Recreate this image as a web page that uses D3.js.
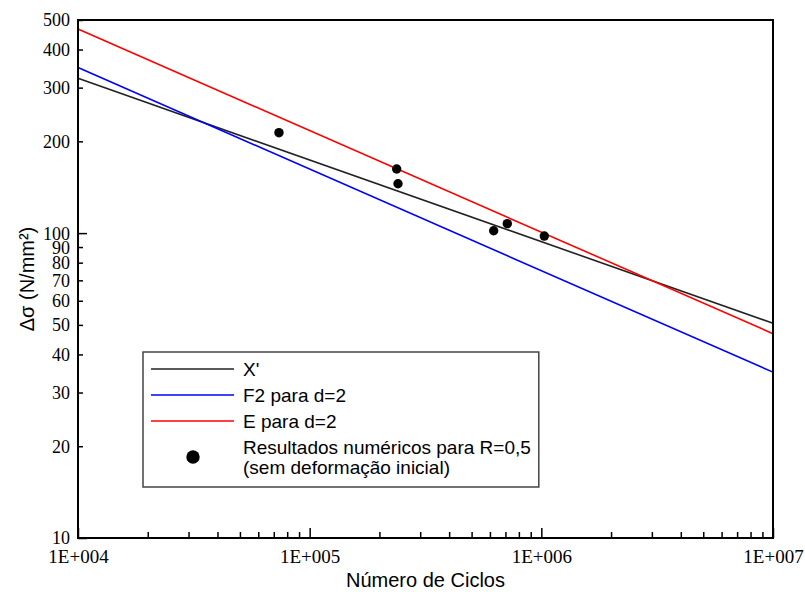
<!DOCTYPE html>
<html>
<head>
<meta charset="utf-8">
<script src="https://cdn.jsdelivr.net/npm/d3@7"></script>
<style>
  body { margin: 0; background: #fff; }
  svg { display: block; }
  .axis .tick text { font-family: 'Liberation Serif', 'Times New Roman', serif; font-size: 19px; fill: #000; }
  .axis.y .tick text { font-size: 18px; }
  .axis path.domain { display: none; }
  .axis .tick line { stroke: #000; stroke-width: 1.5; }
  .title { font-family: 'Liberation Sans', Arial, sans-serif; font-size: 20px; fill: #000; }
  .legend text { font-family: 'Liberation Sans', Arial, sans-serif; font-size: 19px; fill: #000; }
</style>
</head>
<body>
<svg id="graph" width="805" height="592"></svg>
<script>
// fitted curves, read at both ends of the x range
const lineCycles = [1e4, 1e7];
const xPrimeValues = [322, 50.6];
const f2Values = [349, 35];
const eValues = [467, 46.8];

// numerical results (R=0,5)
const pointCycles = [73700, 237500, 240600, 622800, 713000, 1030000];
const pointValues = [213.5, 162.3, 145.2, 101.8, 107.4, 97.8];

const majorCycles = [1e4, 1e5, 1e6, 1e7];
const cycleLabels = ['1E+004', '1E+005', '1E+006', '1E+007'];
const stressTicks = [10, 20, 30, 40, 50, 60, 70, 80, 90, 100, 200, 300, 400, 500];
const majorStress = [10, 100];

const seriesNames = ["X'", 'F2 para d=2', 'E para d=2'];
const seriesColors = ['#222', '#0000ff', '#ff0000'];
const pointLabel = ['Resultados numéricos para R=0,5', '(sem deformação inicial)'];

const margin = { top: 20, right: 32, bottom: 54, left: 78 };
const svg = d3.select('#graph');
const width = 805 - margin.left - margin.right;
const height = 592 - margin.top - margin.bottom;

const g = svg.append('g')
    .attr('transform', `translate(${margin.left},${margin.top})`);

const x = d3.scaleLog().domain([1e4, 1e7]).range([0, width]);
const y = d3.scaleLog().domain([10, 500]).range([height, 0]);

// x axis: all 1..9 decade ticks, labels only at the decades
const xAxis = d3.axisBottom(x)
  .tickValues(x.ticks())
  .tickSizeInner(-6)
  .tickSizeOuter(0)
  .tickPadding(12)
  .tickFormat(d => {
    const i = majorCycles.indexOf(d);
    return i >= 0 ? cycleLabels[i] : '';
  });

const xg = g.append('g')
    .attr('class', 'axis x')
    .attr('transform', `translate(0,${height})`)
    .call(xAxis);
xg.selectAll('.tick line')
    .attr('y2', d => (majorCycles.includes(d) ? -10 : -6));

const yAxis = d3.axisLeft(y)
  .tickValues(stressTicks)
  .tickSizeInner(-5)
  .tickSizeOuter(0)
  .tickPadding(8)
  .tickFormat(d3.format('d'));

const yg = g.append('g')
    .attr('class', 'axis y')
    .call(yAxis);
yg.selectAll('.tick line')
    .attr('x2', d => (majorStress.includes(d) ? 9 : 5));
yg.selectAll('.tick text').attr('dy', '0.33em');

// lines
const line = d3.line()
  .x(d => x(d[0]))
  .y(d => y(d[1]));

[xPrimeValues, f2Values, eValues].forEach((vals, i) => {
  g.append('path')
    .datum(lineCycles.map((c, j) => [c, vals[j]]))
    .attr('d', line)
    .attr('fill', 'none')
    .attr('stroke', seriesColors[i])
    .attr('stroke-width', 1.6);
});

g.selectAll('.pt')
  .data(pointCycles.map((c, i) => [c, pointValues[i]]))
  .enter().append('circle')
    .attr('class', 'pt')
    .attr('cx', d => x(d[0]))
    .attr('cy', d => y(d[1]))
    .attr('r', 4.7)
    .attr('fill', '#000');

// frame
g.append('rect')
    .attr('width', width)
    .attr('height', height)
    .attr('fill', 'none')
    .attr('stroke', '#000')
    .attr('stroke-width', 2);

// axis titles
svg.append('text')
    .attr('class', 'title')
    .attr('text-anchor', 'middle')
    .attr('x', margin.left + width / 2)
    .attr('y', 587)
    .text('Número de Ciclos');

svg.append('text')
    .attr('class', 'title')
    .attr('text-anchor', 'middle')
    .attr('transform', `translate(34,${margin.top + height / 2}) rotate(-90)`)
    .text('Δσ (N/mm²)');

// legend
const legend = svg.append('g').attr('class', 'legend');
const box = legend.append('rect')
    .attr('x', 143)
    .attr('y', 352)
    .attr('height', 135)
    .attr('fill', '#fff')
    .attr('stroke', '#444')
    .attr('stroke-width', 1.5);

seriesNames.forEach((name, i) => {
  const cy = 369 + i * 26;
  legend.append('line')
      .attr('x1', 151).attr('x2', 234)
      .attr('y1', cy).attr('y2', cy)
      .attr('stroke', seriesColors[i])
      .attr('stroke-width', 1.6);
  legend.append('text')
      .attr('x', 243).attr('y', cy)
      .attr('dy', '0.35em')
      .text(name);
});

legend.append('circle')
    .attr('cx', 193).attr('cy', 457)
    .attr('r', 6.7)
    .attr('fill', '#000');

pointLabel.forEach((t, i) => {
  legend.append('text')
      .attr('x', 243).attr('y', 447 + i * 20)
      .attr('dy', '0.35em')
      .text(t);
});

let right = 0;
legend.selectAll('text').each(function () {
  const b = this.getBBox();
  right = Math.max(right, b.x + b.width);
});
box.attr('width', right + 8 - 143);
</script>
</body>
</html>
